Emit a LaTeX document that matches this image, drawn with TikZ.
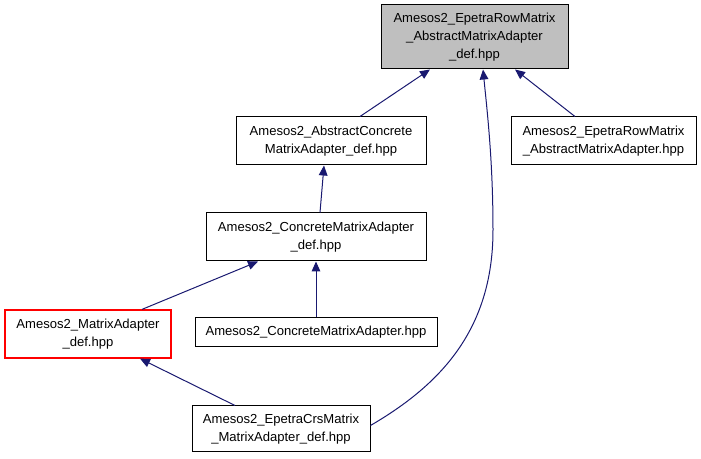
\documentclass[tikz,border=0pt]{standalone}
\usepackage{fontspec}
\setmainfont{Liberation Sans}
\usetikzlibrary{arrows.meta}
\definecolor{edgeblue}{HTML}{191970}
\definecolor{boxgray}{HTML}{BFBFBF}
\definecolor{boxred}{HTML}{FF0000}
\begin{document}
\begin{tikzpicture}[x=0.75pt,y=-0.75pt,
  box/.style={draw=black,line width=0.75pt,fill=white,align=center,inner sep=0pt,
    font=\fontsize{9.8}{13.3}\selectfont},
  edge/.style={draw=edgeblue,line width=0.75pt,{Triangle[length=7.5pt,width=6.5pt]}-}]
\useasboundingbox (0,0) rectangle (701,459);
\node[box,fill=boxgray,minimum width=140.25pt,minimum height=48pt] (top) at (474.5,37)
  {Amesos2\_EpetraRowMatrix\\\_AbstractMatrixAdapter\\\_def.hpp};
\node[box,minimum width=142.5pt,minimum height=36pt] (ac) at (331,141)
  {Amesos2\_AbstractConcrete\\MatrixAdapter\_def.hpp};
\node[box,minimum width=138.75pt,minimum height=36pt] (rm) at (603.5,141)
  {Amesos2\_EpetraRowMatrix\\\_AbstractMatrixAdapter.hpp};
\node[box,minimum width=165pt,minimum height=36pt] (cd) at (316,237)
  {Amesos2\_ConcreteMatrixAdapter\\\_def.hpp};
\node[box,draw=boxred,line width=0.9pt,minimum width=124.5pt,minimum height=36pt] (md) at (88,334)
  {Amesos2\_MatrixAdapter\\\_def.hpp};
\node[box,minimum width=181.5pt,minimum height=21.75pt] (ca) at (316,332.5)
  {Amesos2\_ConcreteMatrixAdapter.hpp};
\node[box,minimum width=133.5pt,minimum height=34.5pt] (crs) at (281,429)
  {Amesos2\_EpetraCrsMatrix\\\_MatrixAdapter\_def.hpp};
% edges
\draw[edge] ([xshift=-33.4pt]top.south) -- ([xshift=21.75pt]ac.north);
\draw[edge] ([xshift=30.4pt]top.south) -- ([xshift=-21.4pt]rm.north);
\draw[edge] ([xshift=6.4pt]top.south) .. controls (487,110) and (493,160) .. (493,230)
  .. controls (493,330) and (440,385) .. ([yshift=-15pt]crs.north east);
\draw[edge] ([xshift=-5.25pt]ac.south) -- ([xshift=3pt]cd.north);
\draw[edge] ([xshift=-43.5pt]cd.south) -- ([xshift=40.5pt]md.north);
\draw[edge] (cd.south) -- (ca.north);
\draw[edge] ([xshift=39pt]md.south) -- ([xshift=-34.5pt]crs.north);
\end{tikzpicture}
\end{document}
